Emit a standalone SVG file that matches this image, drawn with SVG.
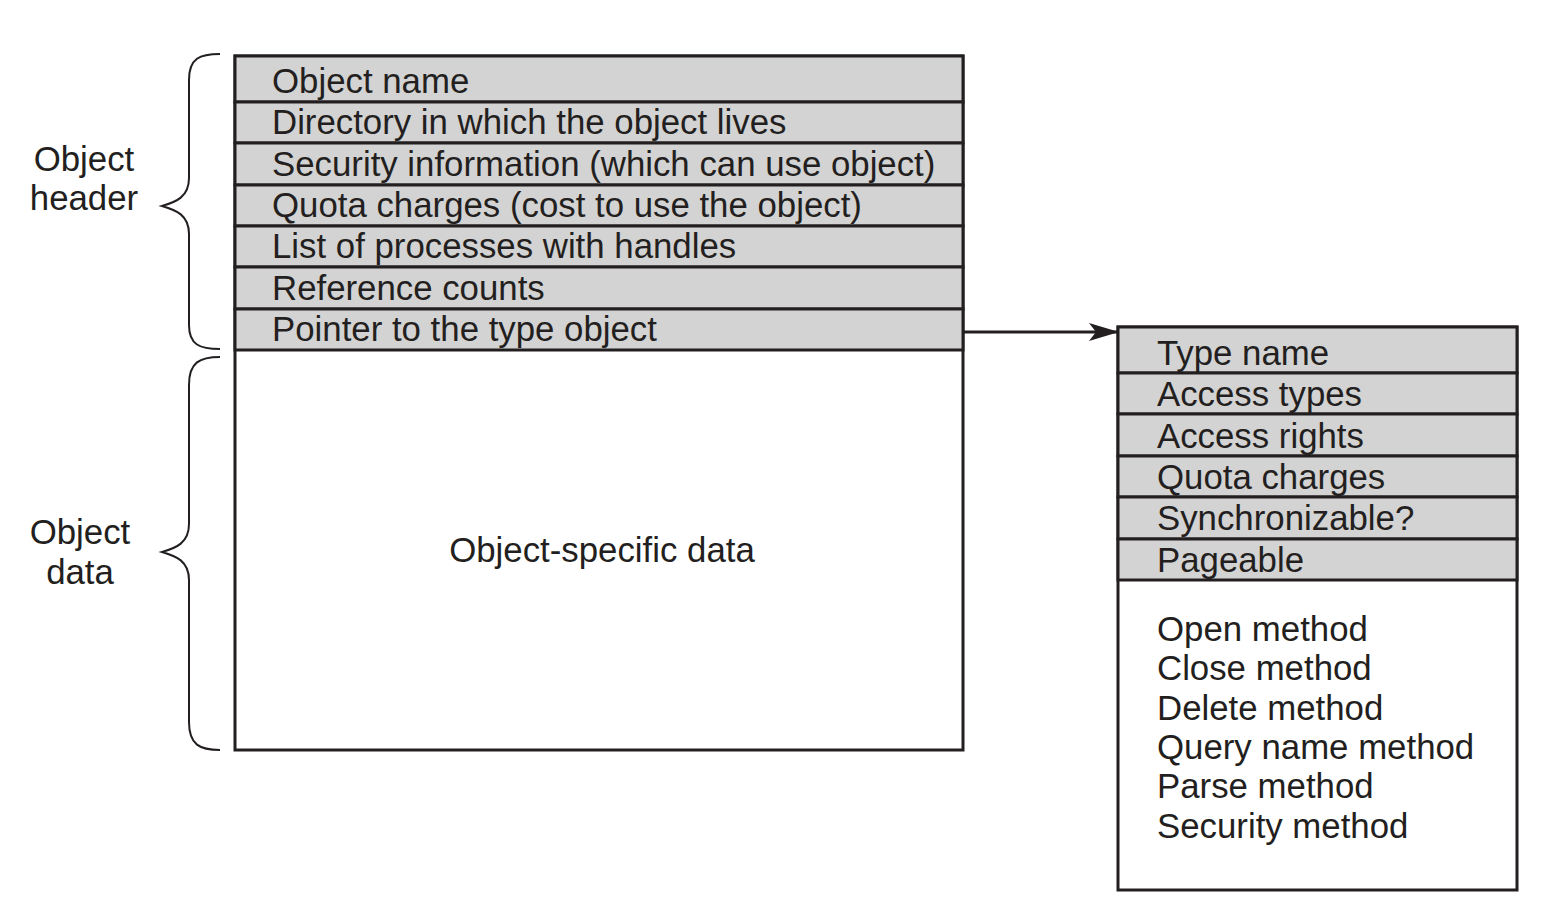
<svg xmlns="http://www.w3.org/2000/svg" width="1556" height="913" viewBox="0 0 1556 913">
<defs>
<style>
text{font-family:"Liberation Sans",Arial,sans-serif;font-size:34.8px;fill:#231f20}
.row{fill:#d3d3d3;stroke:#231f20;stroke-width:3}
.box{fill:#fff;stroke:#231f20;stroke-width:3}
.brace{fill:none;stroke:#231f20;stroke-width:2}
.conn{fill:none;stroke:#231f20;stroke-width:3}
</style>
<marker id="arr" viewBox="0 0 30 18" refX="28" refY="9" markerWidth="30" markerHeight="18" markerUnits="userSpaceOnUse" orient="auto">
<path d="M0,0 L30,9 L0,18 L7,9 Z" fill="#231f20"/>
</marker>
</defs>
<g id="object-header-label">
<text x="84" y="171" text-anchor="middle">Object</text>
<text x="84" y="210" text-anchor="middle">header</text>
<path class="brace" d="M220,54 C200,54 189,58 189,80 L189,178 C189,197 176,202 162,206 C176,210 189,215 189,234 L189,325 C189,345 200,349 220,349"/>
</g>
<g id="object-data-label">
<text x="80" y="544" text-anchor="middle">Object</text>
<text x="80" y="584" text-anchor="middle">data</text>
<path class="brace" d="M220,357 C200,357 189,362 189,385 L189,524 C189,543 176,548 162,552 C176,556 189,561 189,580 L189,722 C189,745 200,750 220,750"/>
</g>
<g id="object">
<rect class="box" x="235" y="56" width="728" height="694"/>
<rect class="row" x="235" y="56" width="728" height="46"/>
<rect class="row" x="235" y="102" width="728" height="41"/>
<rect class="row" x="235" y="143" width="728" height="42"/>
<rect class="row" x="235" y="185" width="728" height="41"/>
<rect class="row" x="235" y="226" width="728" height="41"/>
<rect class="row" x="235" y="267" width="728" height="42"/>
<rect class="row" x="235" y="309" width="728" height="41"/>
<text x="272" y="93">Object name</text>
<text x="272" y="134">Directory in which the object lives</text>
<text x="272" y="176">Security information (which can use object)</text>
<text x="272" y="217">Quota charges (cost to use the object)</text>
<text x="272" y="258">List of processes with handles</text>
<text x="272" y="300">Reference counts</text>
<text x="272" y="341">Pointer to the type object</text>
<text x="602" y="562" text-anchor="middle">Object-specific data</text>
</g>
<g id="type-object">
<rect class="box" x="1118" y="327" width="399" height="563"/>
<rect class="row" x="1118" y="327" width="399" height="46"/>
<rect class="row" x="1118" y="373" width="399" height="41"/>
<rect class="row" x="1118" y="414" width="399" height="42"/>
<rect class="row" x="1118" y="456" width="399" height="41"/>
<rect class="row" x="1118" y="497" width="399" height="42"/>
<rect class="row" x="1118" y="539" width="399" height="41"/>
<text x="1157" y="365">Type name</text>
<text x="1157" y="406">Access types</text>
<text x="1157" y="448">Access rights</text>
<text x="1157" y="489">Quota charges</text>
<text x="1157" y="530">Synchronizable?</text>
<text x="1157" y="572">Pageable</text>
<text x="1157" y="641">Open method</text>
<text x="1157" y="680">Close method</text>
<text x="1157" y="720">Delete method</text>
<text x="1157" y="759">Query name method</text>
<text x="1157" y="798">Parse method</text>
<text x="1157" y="838">Security method</text>
</g>
<g id="connectors">
<path class="conn" d="M963,332 L1117,332" marker-end="url(#arr)"/>
</g>
</svg>
